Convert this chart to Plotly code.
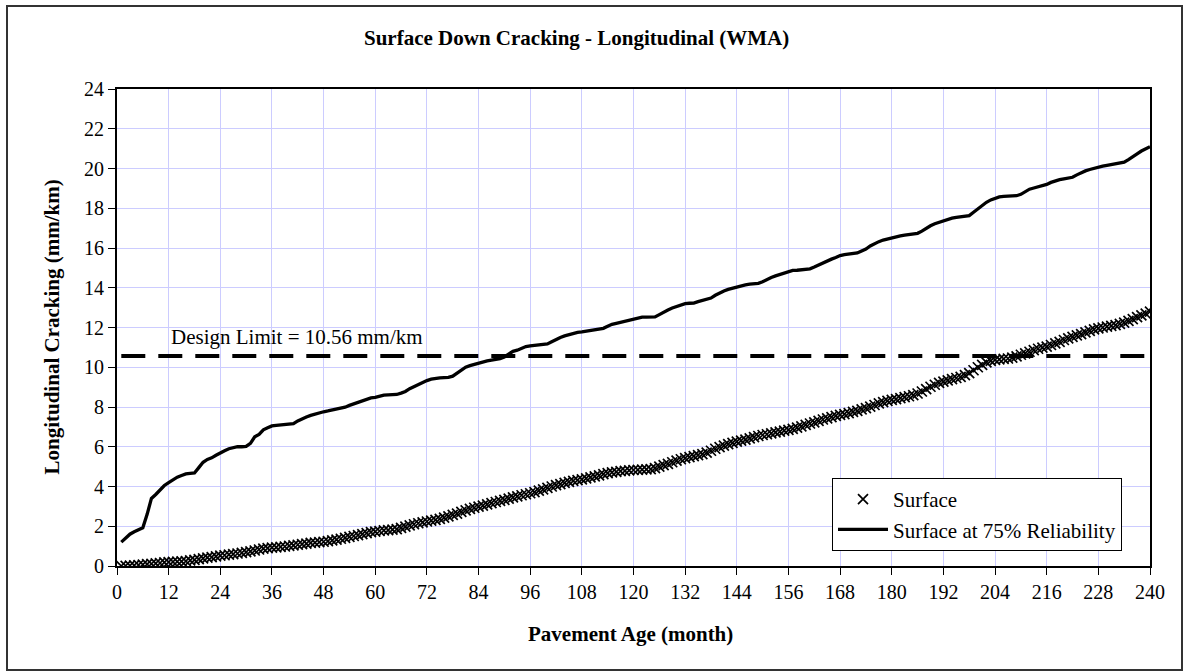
import plotly.graph_objects as go

# Pavement age in months
months = list(range(1, 241))

# Predicted longitudinal (surface down) cracking, mm/km
surface = [
    0.00, 0.01, 0.02, 0.03, 0.05, 0.07, 0.09, 0.11, 0.13, 0.15, 0.18, 0.20,
    0.21, 0.22, 0.23, 0.25, 0.28, 0.31, 0.35, 0.38, 0.42, 0.45, 0.48, 0.52,
    0.54, 0.57, 0.60, 0.63, 0.66, 0.70, 0.74, 0.78, 0.83, 0.87, 0.90, 0.92,
    0.94, 0.96, 0.98, 1.01, 1.04, 1.07, 1.10, 1.13, 1.16, 1.18, 1.20, 1.22,
    1.25, 1.29, 1.33, 1.37, 1.42, 1.47, 1.51, 1.55, 1.60, 1.65, 1.70, 1.73,
    1.76, 1.79, 1.81, 1.83, 1.86, 1.92, 1.98, 2.04, 2.10, 2.15, 2.20, 2.24,
    2.28, 2.32, 2.37, 2.43, 2.50, 2.57, 2.64, 2.72, 2.80, 2.87, 2.93, 2.99,
    3.04, 3.10, 3.16, 3.22, 3.28, 3.33, 3.39, 3.45, 3.50, 3.56, 3.61, 3.66,
    3.72, 3.79, 3.86, 3.93, 4.00, 4.07, 4.12, 4.18, 4.23, 4.28, 4.32, 4.36,
    4.41, 4.46, 4.51, 4.56, 4.62, 4.67, 4.71, 4.74, 4.77, 4.79, 4.81, 4.83,
    4.84, 4.85, 4.86, 4.87, 4.92, 5.00, 5.08, 5.14, 5.22, 5.30, 5.37, 5.43,
    5.48, 5.53, 5.58, 5.63, 5.70, 5.80, 5.90, 5.98, 6.06, 6.13, 6.20, 6.26,
    6.31, 6.36, 6.42, 6.48, 6.54, 6.59, 6.63, 6.67, 6.72, 6.76, 6.81, 6.85,
    6.90, 6.96, 7.03, 7.10, 7.17, 7.23, 7.30, 7.37, 7.43, 7.49, 7.55, 7.60,
    7.64, 7.69, 7.75, 7.81, 7.88, 7.94, 8.02, 8.10, 8.18, 8.25, 8.31, 8.36,
    8.40, 8.45, 8.50, 8.54, 8.60, 8.68, 8.78, 8.90, 9.02, 9.12, 9.21, 9.28,
    9.34, 9.40, 9.46, 9.52, 9.60, 9.70, 9.85, 10.00, 10.12, 10.25, 10.32, 10.37,
    10.40, 10.42, 10.44, 10.48, 10.55, 10.63, 10.70, 10.78, 10.86, 10.93, 10.99, 11.04,
    11.12, 11.20, 11.28, 11.37, 11.45, 11.53, 11.60, 11.67, 11.75, 11.83, 11.91, 11.96,
    12.00, 12.04, 12.08, 12.12, 12.18, 12.25, 12.33, 12.42, 12.52, 12.61, 12.70, 12.80,
]

# Same prediction at 75% reliability, mm/km
surface_75 = [
    1.20, 1.42, 1.60, 1.72, 1.82, 1.92, 2.60, 3.40, 3.60, 3.85, 4.05, 4.20,
    4.35, 4.47, 4.55, 4.63, 4.66, 4.68, 4.95, 5.22, 5.36, 5.44, 5.57, 5.70,
    5.80, 5.90, 5.97, 6.00, 6.00, 6.02, 6.17, 6.50, 6.62, 6.85, 6.95, 7.05,
    7.08, 7.10, 7.12, 7.13, 7.16, 7.30, 7.42, 7.50, 7.58, 7.65, 7.72, 7.76,
    7.80, 7.84, 7.90, 7.94, 7.99, 8.08, 8.16, 8.26, 8.34, 8.42, 8.46, 8.48,
    8.55, 8.60, 8.61, 8.62, 8.63, 8.70, 8.78, 8.92, 9.03, 9.15, 9.25, 9.33,
    9.40, 9.45, 9.47, 9.48, 9.49, 9.55, 9.70, 9.88, 10.00, 10.08, 10.15, 10.20,
    10.25, 10.32, 10.36, 10.40, 10.43, 10.52, 10.66, 10.80, 10.86, 10.96, 11.04, 11.08,
    11.11, 11.14, 11.15, 11.17, 11.28, 11.40, 11.50, 11.58, 11.65, 11.70, 11.75, 11.78,
    11.82, 11.85, 11.88, 11.93, 11.96, 12.06, 12.16, 12.21, 12.26, 12.30, 12.38, 12.43,
    12.48, 12.52, 12.52, 12.52, 12.53, 12.65, 12.78, 12.88, 12.98, 13.05, 13.14, 13.20,
    13.22, 13.23, 13.30, 13.36, 13.42, 13.48, 13.62, 13.74, 13.84, 13.92, 13.98, 14.05,
    14.10, 14.14, 14.18, 14.20, 14.22, 14.30, 14.42, 14.52, 14.60, 14.66, 14.74, 14.82,
    14.87, 14.88, 14.89, 14.90, 14.95, 15.04, 15.14, 15.28, 15.35, 15.44, 15.52, 15.62,
    15.67, 15.70, 15.72, 15.75, 15.85, 15.95, 16.10, 16.22, 16.32, 16.40, 16.46, 16.52,
    16.57, 16.61, 16.65, 16.67, 16.70, 16.74, 16.85, 17.00, 17.12, 17.22, 17.30, 17.38,
    17.44, 17.50, 17.54, 17.57, 17.60, 17.63, 17.80, 17.98, 18.12, 18.30, 18.42, 18.50,
    18.57, 18.60, 18.61, 18.62, 18.63, 18.70, 18.84, 18.96, 19.02, 19.07, 19.12, 19.20,
    19.30, 19.38, 19.44, 19.48, 19.51, 19.56, 19.68, 19.80, 19.88, 19.95, 20.02, 20.06,
    20.12, 20.16, 20.19, 20.24, 20.28, 20.32, 20.45, 20.62, 20.74, 20.88, 21.00, 21.10,
]

design_limit = 10.56
design_label = "Design Limit = 10.56 mm/km"
x_ticks = list(range(0, 241, 12))
y_ticks = list(range(0, 25, 2))

FONT = "Liberation Serif"
W, H = 1187, 671
L, R, T, B = 117, 1150, 89, 566  # plot-area edges in pixels


def px_x(p):
    return (p - L) / (R - L)


def px_y(p):
    return (B - p) / (B - T)


fig = go.Figure()

fig.add_trace(go.Scatter(
    x=[months[0], months[-1]], y=[design_limit, design_limit],
    mode="lines", showlegend=False, hoverinfo="skip",
    line=dict(color="black", width=4, dash="24px,13px"),
))

fig.add_trace(go.Scatter(
    x=months, y=surface, mode="markers", name="Surface",
    marker=dict(symbol="x-thin", size=10, color="black",
                line=dict(color="black", width=1.7)),
))

fig.add_trace(go.Scatter(
    x=months, y=surface_75, mode="lines", name="Surface at 75% Reliability",
    line=dict(color="black", width=3.3),
))

axis_common = dict(
    showgrid=True, gridcolor="#ccccff", gridwidth=1.3,
    showline=True, linecolor="black", linewidth=2, mirror=True,
    ticks="outside", ticklen=7, tickwidth=1.3, tickcolor="black",
    tickfont=dict(family=FONT, size=20, color="black"),
    zeroline=False,
)

fig.update_xaxes(range=[0, 240], tickvals=x_ticks, **axis_common)
fig.update_yaxes(range=[0, 24], tickvals=y_ticks, **axis_common)

fig.add_annotation(
    x=12, y=design_limit + 0.98, xref="x", yref="y",
    text=design_label, showarrow=False, xanchor="left", yanchor="middle",
    font=dict(family=FONT, size=21, color="black"),
)

fig.add_annotation(
    x=px_x(576), y=px_y(38), xref="paper", yref="paper",
    text="<b>Surface Down Cracking - Longitudinal (WMA)</b>", showarrow=False,
    xanchor="center", yanchor="middle",
    font=dict(family=FONT, size=21, color="black"),
)
fig.add_annotation(
    x=px_x(630), y=px_y(634), xref="paper", yref="paper",
    text="<b>Pavement Age (month)</b>", showarrow=False,
    xanchor="center", yanchor="middle",
    font=dict(family=FONT, size=21, color="black"),
)
fig.add_annotation(
    x=px_x(51), y=px_y((T + B) / 2), xref="paper", yref="paper",
    text="<b>Longitudinal Cracking (mm/km)</b>", showarrow=False,
    textangle=-90, xanchor="center", yanchor="middle",
    font=dict(family=FONT, size=21, color="black"),
)

# Chart-area frame
fig.add_shape(
    type="rect", xref="paper", yref="paper",
    x0=px_x(7), x1=px_x(1182), y0=px_y(670), y1=px_y(6),
    line=dict(color="#333333", width=2), fillcolor="rgba(0,0,0,0)",
    layer="below",
)

fig.update_layout(
    width=W, height=H,
    margin=dict(l=L, r=W - R, t=T, b=H - B),
    paper_bgcolor="white", plot_bgcolor="white",
    font=dict(family=FONT, size=20, color="black"),
    legend=dict(
        x=px_x(832), y=px_y(478), xanchor="left", yanchor="top",
        bgcolor="white", bordercolor="black", borderwidth=1,
        font=dict(family=FONT, size=21, color="black"),
        itemwidth=50, tracegroupgap=0,
    ),
    showlegend=True,
)

fig.write_html("out.html")
